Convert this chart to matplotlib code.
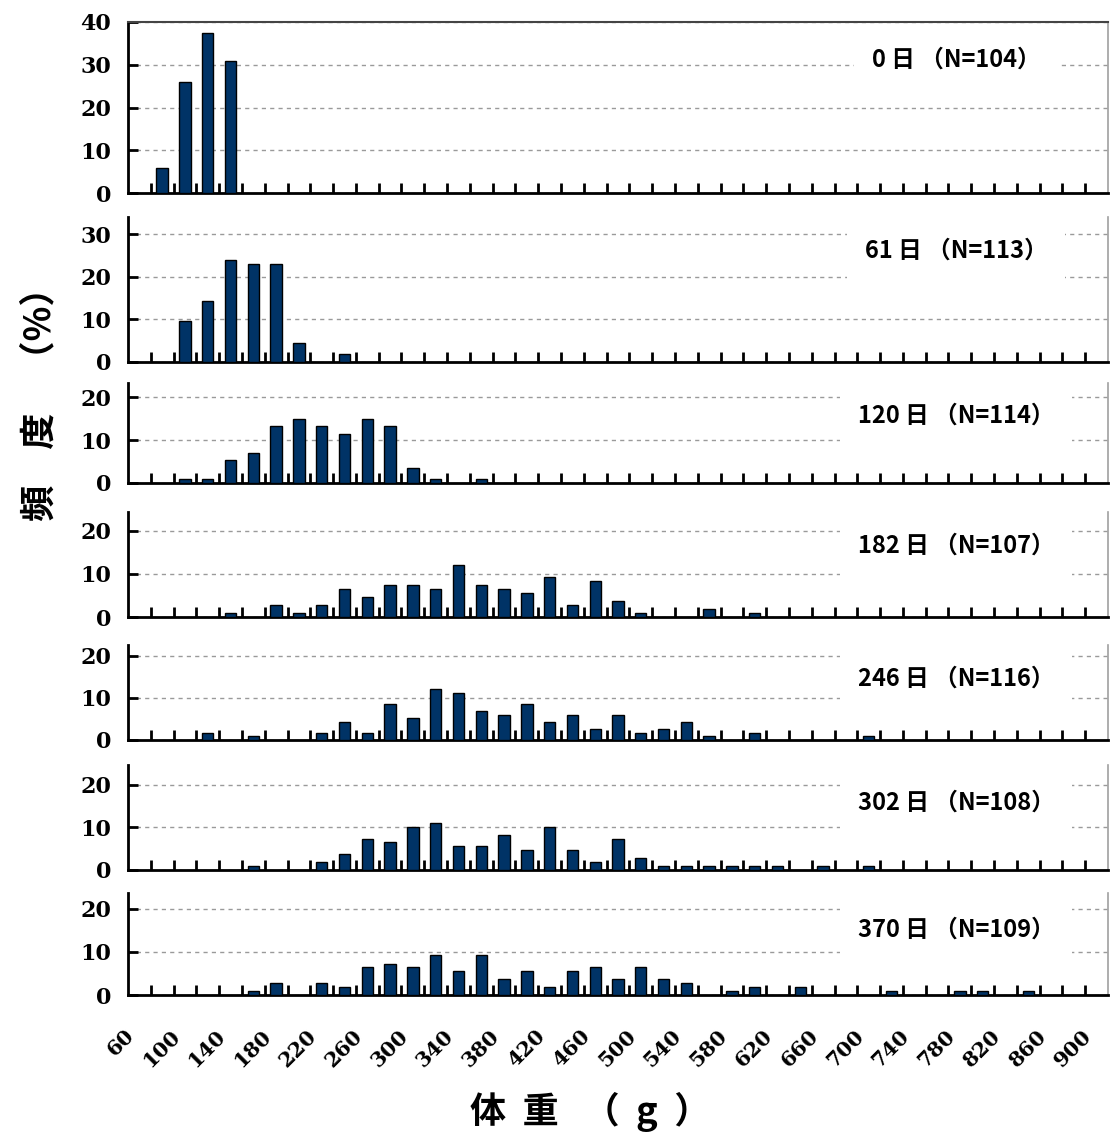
import matplotlib.pyplot as plt
import matplotlib.transforms as mtransforms
import numpy as np

plt.rcParams['font.family'] = ['Noto Sans CJK JP', 'DejaVu Sans']

# weight classes (g), one bar slot per 20 g
weights = list(range(60, 901, 20))
tick_labels = [str(w) for w in weights[::2]]

# frequency (%) per weight class, classes not listed are 0
day0 = {80: 5.8, 100: 26.0, 120: 37.5, 140: 30.8}
day61 = {100: 9.7, 120: 14.2, 140: 23.9, 160: 23.0, 180: 23.0, 200: 4.4, 240: 1.8}
day120 = {100: 0.9, 120: 0.9, 140: 5.3, 160: 7.0, 180: 13.2, 200: 14.9, 220: 13.2,
          240: 11.4, 260: 14.9, 280: 13.2, 300: 3.5, 320: 0.9, 360: 0.9}
day182 = {140: 0.9, 180: 2.8, 200: 0.9, 220: 2.8, 240: 6.5, 260: 4.7, 280: 7.5,
          300: 7.5, 320: 6.5, 340: 12.1, 360: 7.5, 380: 6.5, 400: 5.6, 420: 9.3,
          440: 2.8, 460: 8.4, 480: 3.7, 500: 0.9, 560: 1.9, 600: 0.9}
day246 = {120: 1.7, 160: 0.9, 220: 1.7, 240: 4.3, 260: 1.7, 280: 8.6, 300: 5.2,
          320: 12.1, 340: 11.2, 360: 6.9, 380: 6.0, 400: 8.6, 420: 4.3, 440: 6.0,
          460: 2.6, 480: 6.0, 500: 1.7, 520: 2.6, 540: 4.3, 560: 0.9, 600: 1.7, 700: 0.9}
day302 = {160: 0.9, 220: 1.9, 240: 3.7, 260: 7.4, 280: 6.5, 300: 10.2, 320: 11.1,
          340: 5.6, 360: 5.6, 380: 8.3, 400: 4.6, 420: 10.2, 440: 4.6, 460: 1.9,
          480: 7.4, 500: 2.8, 520: 0.9, 540: 0.9, 560: 0.9, 580: 0.9, 600: 0.9,
          620: 0.9, 660: 0.9, 700: 0.9}
day370 = {160: 0.9, 180: 2.8, 220: 2.8, 240: 1.8, 260: 6.4, 280: 7.3, 300: 6.4,
          320: 9.2, 340: 5.5, 360: 9.2, 380: 3.7, 400: 5.5, 420: 1.8, 440: 5.5,
          460: 6.4, 480: 3.7, 500: 6.4, 520: 3.7, 540: 2.8, 580: 0.9, 600: 1.8,
          640: 1.8, 720: 0.9, 780: 0.9, 800: 0.9, 840: 0.9}

titles = ["0 日 （N=104）", "61 日 （N=113）", "120 日 （N=114）", "182 日 （N=107）",
          "246 日 （N=116）", "302 日 （N=108）", "370 日 （N=109）"]
series = [day0, day61, day120, day182, day246, day302, day370]
yticks = [[0, 10, 20, 30, 40], [0, 10, 20, 30], [0, 10, 20], [0, 10, 20],
          [0, 10, 20], [0, 10, 20], [0, 10, 20]]

# layout, in pixels from top: (zero line, top of axis, ymax)
W, H = 1115, 1133
boxes = [(193, 22, 40), (362, 217, 34), (483, 383, 23.3), (617, 512, 24.4),
         (740, 645, 22.6), (870, 765, 24.7), (995, 893, 23.7)]
text_y = [0.78, 0.77, 0.67, 0.68, 0.65, 0.64, 0.64]
left, right = 128, 1108

fig = plt.figure(figsize=(W / 100, H / 100), dpi=100)
x = np.arange(len(weights))

for i, (data, (y0, y1, ymax)) in enumerate(zip(series, boxes)):
    ax = fig.add_axes([left / W, 1 - y0 / H, (right - left) / W, (y0 - y1) / H])
    xs = [weights.index(w) for w in data]
    ax.bar(xs, list(data.values()), width=0.5, color='#003366',
           edgecolor='black', linewidth=1, zorder=3)
    ax.set_xlim(-0.5, len(weights) - 0.5)
    ax.set_ylim(0, ymax)

    ax.set_yticks(yticks[i], [str(t) for t in yticks[i]], fontfamily='DejaVu Serif',
                  fontweight='bold', fontsize=16)
    ax.tick_params(axis='y', direction='in', length=7, width=2, pad=12)
    ax.yaxis.grid(True, linestyle=(0, (3, 3)), color='#9a9a9a', linewidth=1)
    ax.set_axisbelow(True)

    ax.set_xticks(x[::2])
    ax.set_xticks(x[:-1] + 0.5, minor=True)
    ax.tick_params(axis='x', which='major', length=0)
    ax.tick_params(axis='x', which='minor', direction='in', length=7, width=2)
    if i == len(series) - 1:
        ax.set_xticklabels(tick_labels, rotation=45, ha='right', va='center',
                           rotation_mode='anchor', fontfamily='DejaVu Serif',
                           fontweight='bold', fontsize=15)
        ax.tick_params(axis='x', which='major', pad=27)
        shift = mtransforms.ScaledTranslation(-0.08, 0, fig.dpi_scale_trans)
        for lbl in ax.get_xticklabels():
            lbl.set_transform(lbl.get_transform() + shift)
    else:
        ax.set_xticklabels([])

    ax.spines['left'].set_linewidth(2)
    ax.spines['bottom'].set_linewidth(2)
    ax.spines['right'].set_color('#a0a0a0')
    ax.spines['right'].set_linewidth(1.2)
    if i == 0:
        ax.spines['top'].set_color('#444444')
        ax.spines['top'].set_linewidth(1.5)
    else:
        ax.spines['top'].set_visible(False)

    ax.text(0.845, text_y[i], titles[i], transform=ax.transAxes, ha='center',
            va='center', fontsize=17, fontweight='bold', zorder=5,
            bbox=dict(facecolor='white', edgecolor='none', pad=13))

fig.text(40 / W, 1 - 395 / H, "頻　度　（%）", rotation=90, ha='center', va='center',
         fontsize=26, fontweight='bold')
fig.text(590 / W, 1 - 1112 / H, "体  重   （  g  ）", ha='center', va='center',
         fontsize=26, fontweight='bold')

fig.savefig('out.png', dpi=100)
